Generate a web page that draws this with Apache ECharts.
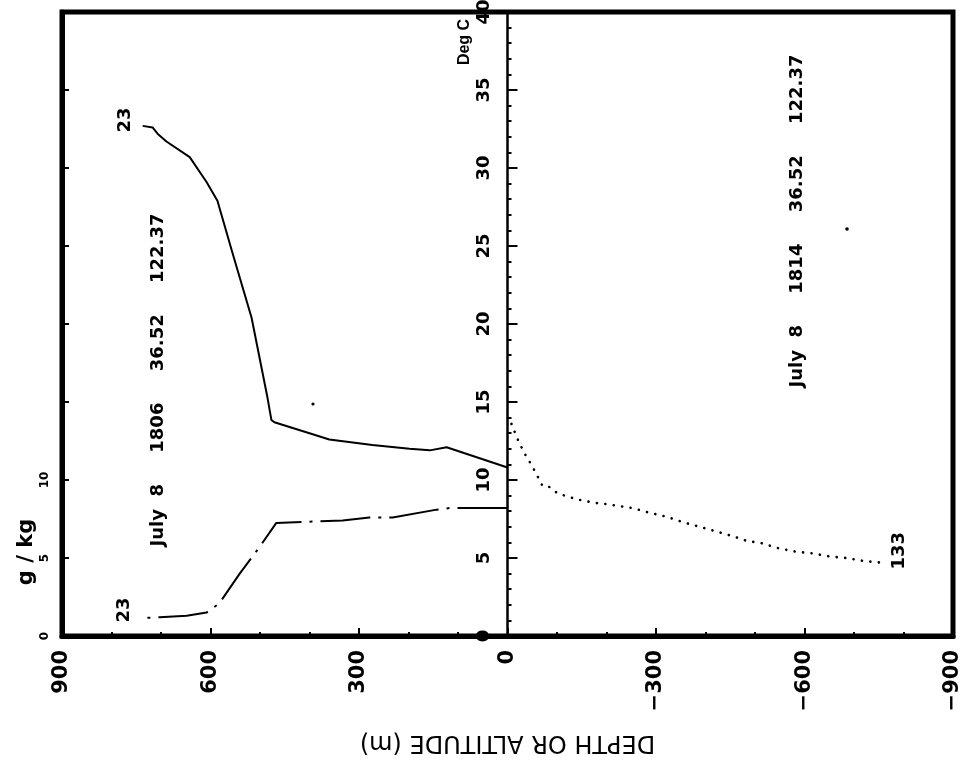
<!DOCTYPE html>
<html>
<head>
<meta charset="utf-8">
<title>Depth or altitude profiles</title>
<script src="https://cdn.jsdelivr.net/npm/echarts@6/dist/echarts.min.js"></script>
<style>
  html, body { margin: 0; padding: 0; background: #fff; }
  #chart { width: 961px; height: 762px; }
</style>
</head>
<body>
<div id="chart"></div>
<script>
// air temperature profile (solid), altitude in m, Deg C
const airAlt = [0, 123, 157, 198, 273, 360, 400, 471, 477, 485, 517, 556, 586, 608, 642, 689, 707, 717, 737];
const airTemp = [10.8, 12.1, 11.9, 12.0, 12.25, 12.6, 13.0, 13.7, 13.85, 15.3, 20.4, 24.6, 27.9, 29.1, 30.7, 31.7, 32.2, 32.6, 32.7];

// humidity profile (dash-dot), altitude in m, g/kg
const humAlt = [0, 117, 143, 232, 279, 333, 380, 467, 501, 541, 582, 608, 648, 703, 739];
const humVal = [8.2, 8.2, 8.1, 7.6, 7.6, 7.4, 7.35, 7.25, 5.7, 4.0, 2.1, 1.5, 1.3, 1.2, 1.15];

// ocean temperature profile (dotted), depth as negative m, Deg C
const seaDepth = [-8, -22, -38, -48, -63, -71, -85, -99, -115, -131, -149, -166, -184, -202, -220, -253, -287, -321, -354, -388, -422, -455, -483, -513, -550, -584, -616, -651, -685, -721, -758];
const seaTemp = [13.6, 12.5, 11.5, 11.0, 10.1, 9.6, 9.55, 9.2, 9.0, 8.85, 8.7, 8.6, 8.5, 8.45, 8.35, 8.2, 7.9, 7.65, 7.3, 7.0, 6.7, 6.4, 6.1, 5.95, 5.6, 5.4, 5.3, 5.1, 5.0, 4.8, 4.7];

// tick labels shown on the g/kg axis
const gkgLabels = [0, 5, 10];

// profile numbers written at the end of each curve
const endTexts = ['23', '23', '133'];
const stationText = ['July  8     1806     36.52     122.37', 'July  8     1814     36.52     122.37'];

const FONT = 'DejaVu Sans';
const pairs = (xs, ys) => xs.map((x, i) => [x, ys[i]]);

const chart = echarts.init(document.getElementById('chart'));

// the Deg C axis stands at altitude 0, half way across the grid
const GRID_W = 961 - 62 - 8;

chart.setOption({
  animation: false,
  backgroundColor: '#fff',
  textStyle: { fontFamily: FONT, color: '#000' },
  grid: {
    left: 62, right: 8, top: 12, bottom: 126,
    show: true, borderColor: '#000', borderWidth: 5,
    containLabel: false, outerBoundsMode: 'none'
  },
  xAxis: {
    type: 'value', min: -900, max: 900, interval: 300, inverse: true,
    name: 'DEPTH OR ALTITUDE (m)', nameLocation: 'middle', nameGap: 94, nameRotate: 180,
    nameTextStyle: { fontSize: 24, color: '#000', fontFamily: FONT },
    axisLine: { onZero: false, lineStyle: { color: '#000', width: 5 } },
    axisTick: { inside: true, length: 8, lineStyle: { color: '#000', width: 2 } },
    minorTick: { show: true, splitNumber: 3, length: 4, lineStyle: { color: '#000', width: 2 } },
    axisLabel: {
      rotate: 90, margin: 14, fontSize: 21, fontWeight: 'bold', color: '#000',
      showMinLabel: true, showMaxLabel: true, hideOverlap: false,
      formatter: v => (v < 0 ? '\u2212' + (-v) : String(v))
    },
    splitLine: { show: false }
  },
  yAxis: [
    {
      // Deg C
      type: 'value', min: 0, max: 40, interval: 5, position: 'left', offset: -GRID_W / 2,
      axisLine: { onZero: false, lineStyle: { color: '#000', width: 2.5 } },
      axisTick: { inside: true, length: 10, lineStyle: { color: '#000', width: 2 } },
      minorTick: { show: true, splitNumber: 5, length: 4, lineStyle: { color: '#000', width: 2 } },
      axisLabel: {
        rotate: 90, margin: 14, fontSize: 18, fontWeight: 'bold', color: '#000',
        showMinLabel: true, showMaxLabel: true, hideOverlap: false
      },
      splitLine: { show: false }
    },
    {
      // g/kg, on the left frame
      type: 'value', min: 0, max: 40, interval: 5, position: 'left', offset: 0,
      axisLine: { onZero: false, lineStyle: { color: '#000', width: 5 } },
      axisTick: { inside: true, length: 7, lineStyle: { color: '#000', width: 2 } },
      minorTick: { show: true, splitNumber: 5, length: 3, lineStyle: { color: '#000', width: 1.5 } },
      axisLabel: {
        rotate: 90, margin: 11, fontSize: 12, fontWeight: 'bold', color: '#000',
        showMinLabel: true, hideOverlap: false,
        formatter: v => (gkgLabels.includes(v) ? String(v) : '')
      },
      splitLine: { show: false }
    }
  ],
  series: [
    {
      name: 'air temperature', type: 'line', yAxisIndex: 0,
      data: pairs(airAlt, airTemp), symbol: 'none',
      lineStyle: { color: '#000', width: 2 }
    },
    {
      name: 'humidity', type: 'line', yAxisIndex: 1,
      data: pairs(humAlt, humVal), symbol: 'none',
      lineStyle: { color: '#000', width: 2, type: [50, 8, 3, 8] }
    },
    {
      name: 'sea temperature', type: 'line', yAxisIndex: 0,
      data: pairs(seaDepth, seaTemp), symbol: 'none',
      lineStyle: { color: '#000', width: 2.6, type: [0.1, 8.4], cap: 'round' }
    }
  ]
});

// rotated text helper, centred on (x, y)
function vText(text, x, y, size, family) {
  return {
    type: 'text', x: x, y: y, rotation: Math.PI / 2, z: 10,
    style: {
      text: text, fill: '#000', align: 'center', verticalAlign: 'middle',
      fontFamily: family || FONT, fontSize: size, fontWeight: 'bold'
    }
  };
}

// curve-end numbers placed next to the last point of each series
const ends = [
  [0, airAlt, airTemp, -17, -6],
  [1, humAlt, humVal, -17, -8],
  [2, seaDepth, seaTemp, 17, -12]
];
const graphics = ends.map(([si, xs, ys, dx, dy], k) => {
  const n = xs.length - 1;
  const p = chart.convertToPixel({ seriesIndex: si }, [xs[n], ys[n]]);
  return vText(endTexts[k], p[0] + dx, p[1] + dy, 18);
});

graphics.push(
  vText(stationText[0], 158, 380, 18),
  vText(stationText[1], 797, 221, 18),
  vText('Deg C', 465, 42, 16, 'Liberation Sans'),
  vText('g / kg', 27, 552, 21),
  { type: 'circle', shape: { cx: 847, cy: 229, r: 1.8 }, style: { fill: '#000' } },
  { type: 'circle', shape: { cx: 313, cy: 404, r: 1.6 }, style: { fill: '#000' } }
);

chart.setOption({ graphic: graphics });
</script>
</body>
</html>
